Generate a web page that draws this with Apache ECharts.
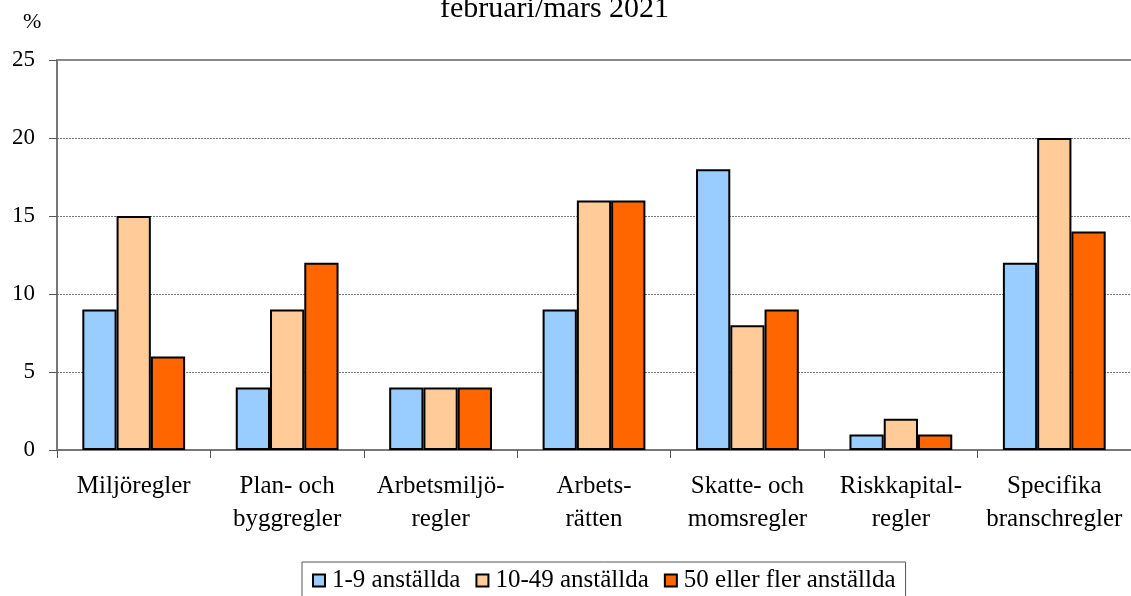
<!DOCTYPE html>
<html>
<head>
<meta charset="utf-8">
<script src="https://cdn.jsdelivr.net/npm/echarts@6/dist/echarts.min.js"></script>
<style>
  html, body { margin: 0; padding: 0; background: #fff; }
  #main { width: 1131px; height: 596px; }
</style>
</head>
<body>
<div id="main"></div>
<script type="text/javascript">
    // kategorier och andelar (%)
    var categories = ['Miljöregler', 'Plan- och\nbyggregler', 'Arbetsmiljö-\nregler', 'Arbets-\nrätten',
        'Skatte- och\nmomsregler', 'Riskkapital-\nregler', 'Specifika\nbranschregler'];
    var seriesNames = ['1-9 anställda', '10-49 anställda', '50 eller fler anställda'];
    var small = [9, 4, 4, 9, 18, 1, 12];
    var medium = [15, 9, 4, 16, 8, 2, 20];
    var large = [6, 12, 4, 16, 9, 1, 14];
    var colors = ['#99ccff', '#ffcc99', '#ff6600'];

    var font = '"Liberation Serif", "Times New Roman", serif';
    var myChart = echarts.init(document.getElementById('main'));

    function bar(i, data) {
        return {
            name: seriesNames[i],
            type: 'bar',
            data: data,
            barGap: '0%',
            barCategoryGap: '33%',
            itemStyle: { color: colors[i], borderColor: '#000', borderWidth: 2 }
        };
    }

    var option = {
        animation: false,
        textStyle: { fontFamily: font },
        title: [
            {
                text: 'februari/mars 2021',
                left: 435, top: -11,
                textStyle: { fontFamily: font, fontSize: 30, fontWeight: 'normal', color: '#000' }
            },
            {
                text: '%',
                left: 18, top: 6,
                textStyle: { fontFamily: font, fontSize: 22, fontWeight: 'normal', color: '#000' }
            }
        ],
        legend: {
            data: seriesNames,
            left: 302, top: 562,
            padding: [6, 10, 10, 10],
            itemGap: 15,
            itemWidth: 12, itemHeight: 12,
            icon: 'rect',
            borderColor: '#555', borderWidth: 1,
            itemStyle: { borderColor: '#000', borderWidth: 2 },
            textStyle: { fontFamily: font, fontSize: 25, color: '#000', padding: [0, 0, 0, 2] }
        },
        grid: { left: 57, right: 0, top: 60, bottom: 146 },
        xAxis: [
            {
                type: 'category',
                data: categories,
                axisLine: { lineStyle: { color: '#777', width: 2 } },
                axisTick: { show: true, interval: 0, length: 8, lineStyle: { color: '#555', width: 1 } },
                axisLabel: { interval: 0, color: '#000', fontFamily: font, fontSize: 25, lineHeight: 33, margin: 20 }
            },
            {
                type: 'category',
                position: 'top',
                data: categories,
                axisLine: { lineStyle: { color: '#888', width: 2 } },
                axisTick: { show: false },
                axisLabel: { show: false }
            }
        ],
        yAxis: {
            type: 'value',
            min: 0, max: 25, interval: 5,
            axisLine: { show: true, lineStyle: { color: '#777', width: 2 } },
            axisTick: { show: true, length: 8, lineStyle: { color: '#555' } },
            axisLabel: { color: '#000', fontFamily: font, fontSize: 23, margin: 22 },
            splitLine: { lineStyle: { color: '#777', type: [2, 1], width: 1 } }
        },
        series: [bar(0, small), bar(1, medium), bar(2, large)]
    };
    myChart.setOption(option);
</script>
</body>
</html>
